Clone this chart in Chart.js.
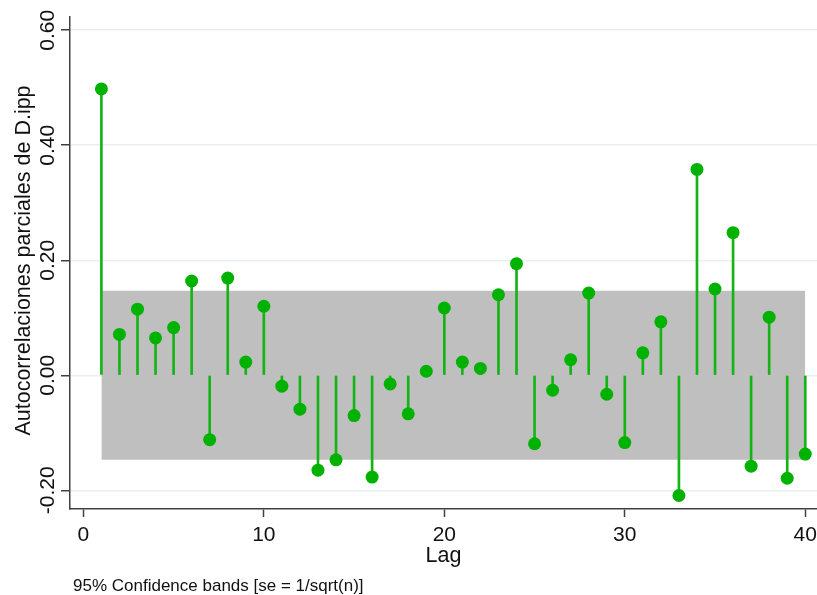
<!DOCTYPE html>
<html>
<head>
<meta charset="utf-8">
<title>PACF D.ipp</title>
<script src="https://cdn.jsdelivr.net/npm/chart.js@4/dist/chart.umd.min.js"></script>
<style>
  html, body { margin: 0; padding: 0; background: #fff; }
  #wrap { width: 817px; height: 595px; }
</style>
</head>
<body>
<div id="wrap"><canvas id="myCanvas" width="817" height="595"></canvas></div>
<script>
// lags y autocorrelaciones parciales
const lags = [1, 2, 3, 4, 5, 6, 7, 8, 9, 10,
              11, 12, 13, 14, 15, 16, 17, 18, 19, 20,
              21, 22, 23, 24, 25, 26, 27, 28, 29, 30,
              31, 32, 33, 34, 35, 36, 37, 38, 39, 40];
const pacf = [0.498, 0.071, 0.115, 0.065, 0.083, 0.164, -0.112, 0.169, 0.023, 0.120,
              -0.019, -0.059, -0.165, -0.147, -0.070, -0.177, -0.015, -0.067, 0.007, 0.117,
              0.023, 0.012, 0.140, 0.194, -0.119, -0.026, 0.027, 0.143, -0.033, -0.117,
              0.039, 0.093, -0.209, 0.358, 0.150, 0.248, -0.158, 0.101, -0.179, -0.137];
// banda de confianza 95% (se = 1/sqrt(n))
const band = 0.147;
const xTicks = [0, 10, 20, 30, 40];
const yTicks = [-0.2, 0, 0.2, 0.4, 0.6];

const FONT = "'Liberation Sans', Arial, sans-serif";
const green = '#00b200';
const axisColor = '#404040';

const points = lags.map((l, i) => ({ x: l, y: pacf[i] }));

// textos: etiquetas del eje y (giradas), titulos y nota
const textPlugin = {
  id: 'textos',
  afterDraw(chart) {
    const ctx = chart.ctx;
    const ys = chart.scales.y;
    const area = chart.chartArea;
    ctx.save();
    ctx.fillStyle = '#111';
    ctx.textAlign = 'center';
    ctx.textBaseline = 'alphabetic';

    ctx.font = '21px ' + FONT;
    ys.ticks.forEach(t => {
      const py = ys.getPixelForValue(t.value);
      ctx.save();
      ctx.translate(53.5, py);
      ctx.rotate(-Math.PI / 2);
      ctx.fillText(t.value.toFixed(2), 0, 0);
      ctx.restore();
    });

    ctx.font = '21.5px ' + FONT;
    ctx.save();
    ctx.translate(29.5, 260.5);
    ctx.rotate(-Math.PI / 2);
    ctx.fillText('Autocorrelaciones parciales de D.ipp', 0, 0);
    ctx.restore();

    ctx.fillText('Lag', (area.left + area.right) / 2, 561.5);

    ctx.textAlign = 'left';
    ctx.font = '17px ' + FONT;
    ctx.fillText('95% Confidence bands [se = 1/sqrt(n)]', 73, 590.5);
    ctx.restore();
  }
};

const canvas = document.getElementById('myCanvas');
const ctx = canvas.getContext('2d');
const myChart = new Chart(ctx, {
  type: 'scatter',
  data: {
    datasets: [
      {
        // banda gris
        type: 'line',
        data: [{ x: lags[0], y: band }, { x: lags[lags.length - 1], y: band }],
        borderWidth: 0,
        pointRadius: 0,
        backgroundColor: '#bfbfbf',
        fill: { value: -band },
        order: 3
      },
      {
        // lineas verticales
        type: 'bar',
        data: points,
        backgroundColor: '#14b414',
        barThickness: 2,
        order: 2
      },
      {
        type: 'scatter',
        data: points,
        pointRadius: 6.5,
        pointBackgroundColor: green,
        pointBorderWidth: 0,
        order: 1
      }
    ]
  },
  options: {
    responsive: false,
    animation: false,
    layout: { autoPadding: false, padding: { top: 17, left: 0, right: 0, bottom: 0 } },
    plugins: {
      legend: { display: false },
      tooltip: { enabled: false }
    },
    scales: {
      x: {
        type: 'linear',
        offset: false,
        min: -0.74,
        max: 40.65,
        afterBuildTicks: s => { s.ticks = xTicks.map(v => ({ value: v })); },
        afterFit: s => { s.height = 86; s.paddingLeft = 0; s.paddingRight = 0; },
        ticks: {
          font: { size: 21, family: FONT },
          color: '#111',
          padding: 6,
          maxRotation: 0
        },
        grid: {
          offset: false,
          drawOnChartArea: false,
          drawTicks: true,
          tickLength: 8,
          tickColor: axisColor,
          tickWidth: 1.5
        },
        border: { color: axisColor, width: 1.5 }
      },
      y: {
        min: -0.2325,
        max: 0.623,
        afterBuildTicks: s => { s.ticks = yTicks.map(v => ({ value: v })); },
        afterFit: s => { s.width = 70; s.paddingTop = 0; s.paddingBottom = 0; },
        ticks: { display: false },
        grid: {
          color: '#e8f0f3',
          lineWidth: 1.5,
          drawTicks: true,
          tickLength: 9,
          tickColor: axisColor,
          tickWidth: 1.5
        },
        border: { color: axisColor, width: 1.5 }
      }
    }
  },
  plugins: [textPlugin]
});
</script>
</body>
</html>
